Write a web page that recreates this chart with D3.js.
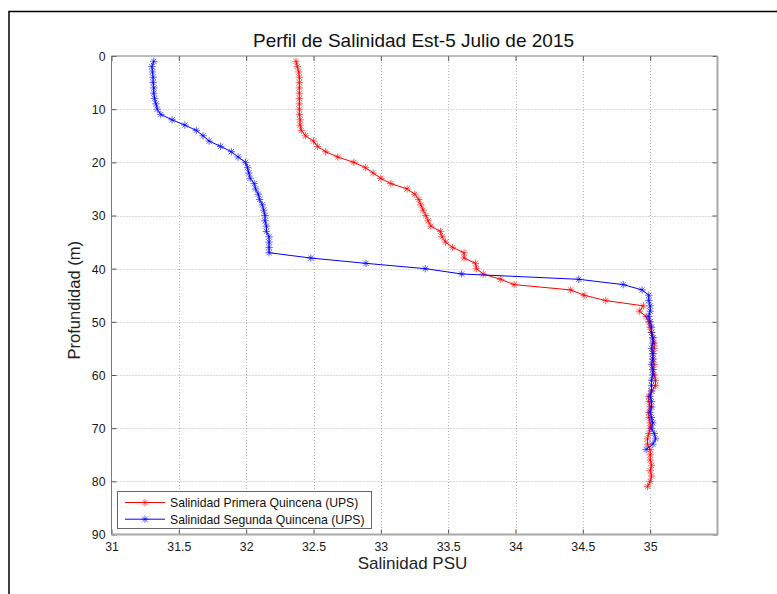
<!DOCTYPE html>
<html><head><meta charset="utf-8">
<script src="https://cdn.jsdelivr.net/npm/d3@7"></script>
<style>body{margin:0;background:#fff}svg{display:block}text{font-family:"Liberation Sans",Arial,sans-serif}</style>
</head><body><svg id="c" width="777" height="594"></svg>
<script>
const title = "Perfil de Salinidad Est-5 Julio de 2015";
const xLabel = "Salinidad PSU";
const yLabel = "Profundidad (m)";
const seriesNames = ["Salinidad Primera Quincena (UPS)", "Salinidad Segunda Quincena (UPS)"];
const xTicks = [31, 31.5, 32, 32.5, 33, 33.5, 34, 34.5, 35];
const yTicks = [0, 10, 20, 30, 40, 50, 60, 70, 80, 90];

const depthPrimera = [1,2,3,4,5,6,7,8,9,10,11,12,13,14,15,16,17,18,19,20,21,22,23,24,25,26,27,28,29,30,31,32,33,34,35,36,37,38,39,40,41,42,43,44,45,46,47,48,49,50,51,52,53,54,55,56,57,58,59,60,61,62,63,64,65,66,67,68,69,70,71,72,73,74,75,76,77,78,79,80,81];
const salPrimera = [32.37,32.38,32.39,32.395,32.395,32.395,32.395,32.395,32.395,32.395,32.395,32.40,32.40,32.41,32.44,32.50,32.53,32.59,32.68,32.80,
  32.886,32.943,33.0,33.074,33.195,33.252,33.282,33.297,33.314,33.334,33.351,33.371,33.443,33.455,33.48,33.532,33.618,33.618,33.703,33.71,
  33.76,33.89,33.99,34.41,34.51,34.67,34.95,34.92,34.97,34.99,35.00,35.01,35.02,35.03,35.03,35.02,35.02,35.03,35.02,35.03,
  35.04,35.04,35.01,34.99,34.99,35.00,34.99,34.99,35.00,35.00,34.99,34.98,34.98,35.00,35.00,35.00,35.01,35.00,35.01,35.00,34.98];

const depthSegunda = [1,2,3,4,5,6,7,8,9,10,11,12,13,14,15,16,17,18,19,20,21,22,23,24,25,26,27,28,29,30,31,32,33,34,35,36,37,38,39,40,41,42,43,44,45,46,47,48,49,50,51,52,53,54,55,56,57,58,59,60,61,62,63,64,65,66,67,68,69,70,71,72,73,74];
const salSegunda = [31.314,31.30,31.304,31.309,31.309,31.314,31.314,31.32,31.33,31.34,31.366,31.45,31.545,31.63,31.68,31.725,31.81,31.89,31.94,31.995,
  32.01,32.02,32.03,32.06,32.07,32.09,32.10,32.12,32.13,32.14,32.14,32.15,32.15,32.17,32.17,32.17,32.17,32.48,32.89,33.33,
  33.60,34.47,34.80,34.94,34.99,34.99,35.00,35.00,34.99,35.00,35.01,35.01,35.02,35.02,35.01,35.02,35.02,35.01,35.02,35.02,
  35.01,35.01,35.01,35.00,35.01,35.01,35.00,35.01,35.02,35.01,35.03,35.04,35.02,34.97];

const colors = ["#ff0000", "#0000ff"];

const svg = d3.select("#c");
const L = 111.5, R = 717.5, T = 56, B = 534.5;
const x = d3.scaleLinear().domain([31, 35.5]).range([L, R]);
const y = d3.scaleLinear().domain([0, 90]).range([T, B]);

// outer frame
svg.append("path").attr("d", "M9,594 V11.5 H777").attr("fill", "none").attr("stroke", "#000").attr("stroke-width", 1.5);

// grid
const g = svg.append("g");
g.selectAll(".gx").data(xTicks.filter(t => t > 31)).enter().append("line")
  .attr("x1", d => Math.round(x(d)) + 0.5).attr("x2", d => Math.round(x(d)) + 0.5)
  .attr("y1", T).attr("y2", B).attr("stroke", "#b4b4b4").attr("stroke-dasharray", "1,2");
g.selectAll(".gy").data(yTicks.filter(t => t > 0 && t < 90)).enter().append("line")
  .attr("y1", d => Math.round(y(d)) + 0.5).attr("y2", d => Math.round(y(d)) + 0.5)
  .attr("x1", L).attr("x2", R).attr("stroke", "#b4b4b4").attr("stroke-dasharray", "1,2");

// axes with inward ticks
const ax = svg.append("g").attr("transform", `translate(0,${B})`)
  .call(d3.axisBottom(x).tickValues(xTicks).tickSize(-5).tickPadding(8).tickFormat(d3.format("")));
const axT = svg.append("g").attr("transform", `translate(0,${T})`)
  .call(d3.axisTop(x).tickValues(xTicks).tickSize(-5).tickFormat(""));
const ay = svg.append("g").attr("transform", `translate(${L},0)`)
  .call(d3.axisLeft(y).tickValues(yTicks).tickSize(-5).tickPadding(6));
const ayR = svg.append("g").attr("transform", `translate(${R},0)`)
  .call(d3.axisRight(y).tickValues(yTicks).tickSize(-5).tickFormat(""));
[ax, axT, ay, ayR].forEach(a => {
  a.select(".domain").remove();
  a.selectAll(".tick line").attr("stroke", "#555");
  a.selectAll(".tick text").attr("font-size", 12.3).attr("fill", "#1a1a1a")
    .attr("font-family", "'Liberation Sans', Arial, sans-serif");
});
ay.selectAll(".tick text").attr("dy", "0.36em");

// box
svg.append("path").attr("d", `M${L},${B} V${T} H${R}`).attr("fill", "none").attr("stroke", "#7a7a7a").attr("stroke-width", 1);
svg.append("path").attr("d", `M${L},${B} H${R} V${T}`).attr("fill", "none").attr("stroke", "#a8a8a8").attr("stroke-width", 2);

// marker
function star(s) {
  const a = s * 0.72;
  return `M${-s},0H${s}M0,${-s}V${s}M${-a},${-a}L${a},${a}M${-a},${a}L${a},${-a}`;
}

const series = [
  {d: depthPrimera, s: salPrimera, c: colors[0]},
  {d: depthSegunda, s: salSegunda, c: colors[1]}
];
const line = d3.line().x(p => x(p[0])).y(p => y(p[1]));
series.forEach(sr => {
  const pts = sr.s.map((v, i) => [v, sr.d[i]]);
  svg.append("path").attr("d", line(pts)).attr("fill", "none").attr("stroke", sr.c).attr("stroke-width", 1);
  svg.append("g").selectAll("path").data(pts).enter().append("path")
    .attr("transform", p => `translate(${x(p[0])},${y(p[1])})`)
    .attr("d", star(3.7)).attr("fill", "none").attr("stroke", sr.c).attr("stroke-width", 0.9).attr("stroke-opacity", 0.7);
});

// title and labels
svg.append("text").attr("x", (L + R) / 2 - 1).attr("y", 47).attr("text-anchor", "middle")
  .attr("font-size", 19).attr("fill", "#111").text(title);
svg.append("text").attr("x", (L + R) / 2 - 2).attr("y", 569).attr("text-anchor", "middle")
  .attr("font-size", 17).attr("fill", "#222").text(xLabel);
svg.append("text").attr("transform", `translate(80,${(T + B) / 2 + 5}) rotate(-90)`).attr("text-anchor", "middle")
  .attr("font-size", 16.5).attr("fill", "#222").text(yLabel);

// legend
const lg = svg.append("g");
lg.append("rect").attr("x", 117.5).attr("y", 491.5).attr("width", 254).attr("height", 37)
  .attr("fill", "#fff").attr("stroke", "#666").attr("stroke-width", 1);
seriesNames.forEach((n, i) => {
  const yy = 502.5 + i * 16.7;
  lg.append("line").attr("x1", 125).attr("x2", 165).attr("y1", yy).attr("y2", yy).attr("stroke", colors[i]).attr("stroke-width", 1);
  lg.append("path").attr("transform", `translate(145,${yy})`).attr("d", star(3.7)).attr("fill", "none")
    .attr("stroke", colors[i]).attr("stroke-width", 0.9).attr("stroke-opacity", 0.7);
  lg.append("text").attr("x", 170).attr("y", yy).attr("dy", "0.36em").attr("font-size", 12.2).attr("fill", "#111").text(n);
});
</script></body></html>
